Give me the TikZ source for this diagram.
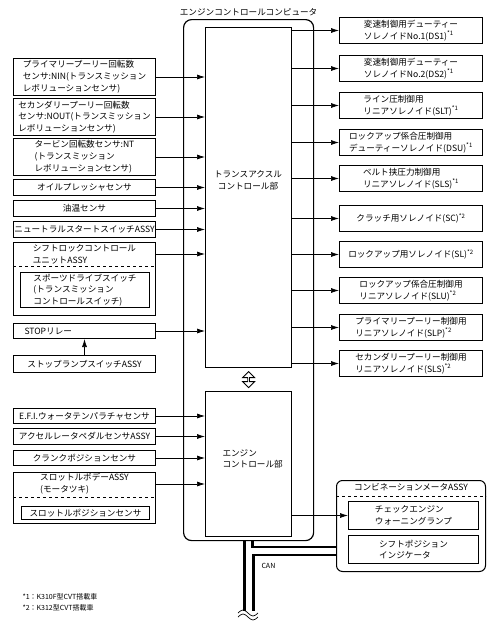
\documentclass[tikz,border=0pt]{standalone}
\usepackage{fontspec}
\setmainfont{Noto Sans CJK JP}
\usetikzlibrary{shapes,arrows.meta,positioning,calc}

\begin{document}
\begin{tikzpicture}[x=1pt, y=-1pt, font=\fontsize{8.6}{11.8}\selectfont,
  box/.style={draw, line width=1pt, anchor=north west, inner sep=0.5pt, align=left},
  inbox/.style={box, minimum width=142pt},
  outbox/.style={box, minimum width=143pt, minimum height=26pt},
  ctrlbox/.style={draw, line width=1.2pt, anchor=north west},
  sig/.style={-{Latex[length=8pt,width=5pt]}, line width=0.7pt},
  can/.style={line width=2.4pt},
  note/.style={anchor=west, font=\fontsize{7}{8}\selectfont}]
\useasboundingbox (0,0) rectangle (496,625);

\node[ctrlbox, rounded corners=8pt, minimum width=130pt, minimum height=521pt] (ecc) at (183,19) {};
\node[above=0pt of ecc] (ecctitle) {エンジンコントロールコンピュータ};
\node[ctrlbox, minimum width=86pt, minimum height=340pt] (tcu) at (205,27) {};
\node[align=center] (tculabel) at (248,180) {トランスアクスル\\コントロール部};
\node[ctrlbox, minimum width=86pt, minimum height=145pt] (ecu) at (205,391) {};
\node[anchor=west, align=left] (eculabel) at (219,459) {エンジン\\コントロール部};
\node[double arrow, draw, line width=0.8pt, rotate=90, minimum height=16pt, minimum width=12pt, double arrow head extend=2.5pt, inner sep=0pt] (link) at ($(tcu.south)!0.5!(ecu.north)$) {};

\node[inbox, minimum height=37pt] (in1) at (13,58) {プライマリープーリー回転数\\センサ:NIN(トランスミッション\\レボリューションセンサ)};
\node[inbox, minimum height=37pt] (in2) at (13,98) {セカンダリープーリー回転数\\センサ:NOUT(トランスミッション\\レボリューションセンサ)};
\node[inbox, minimum height=37pt] (in3) at (13,138) {タービン回転数センサ:NT\\(トランスミッション\\レボリューションセンサ)};
\node[inbox, minimum height=16pt] (in4) at (13,179) {オイルプレッシャセンサ};
\node[inbox, minimum height=16pt] (in5) at (13,200) {油温センサ};
\node[inbox, minimum height=16pt] (in6) at (13,221) {ニュートラルスタートスイッチASSY};
\node[inbox, minimum height=73pt] (in7) at (13,242) {};
\node[align=left] (in7t) at ([yshift=-12pt]in7.north) {シフトロックコントロール\\ユニットASSY};
\draw[dashed, line width=0.6pt] ([yshift=-24pt]in7.north west) -- ([yshift=-24pt]in7.north east);
\node[box, minimum width=129pt, minimum height=35pt] (in7s) at ([xshift=7pt,yshift=-30pt]in7.north west) {スポーツドライブスイッチ\\(トランスミッション\\コントロールスイッチ)};
\node[inbox, minimum height=15pt, text width=120pt] (in8) at (13,323) {STOPリレー};
\node[inbox, minimum height=17pt] (in9) at (13,355) {ストップランプスイッチASSY};
\node[inbox, minimum height=15pt] (in10) at (13,408) {E.F.I.ウォータテンパラチャセンサ};
\node[inbox, minimum height=16pt] (in11) at (13,428) {アクセルレータペダルセンサASSY};
\node[inbox, minimum height=15pt] (in12) at (13,450) {クランクポジションセンサ};
\node[inbox, minimum height=51pt] (in13) at (13,472) {};
\node[align=left] (in13t) at ([yshift=-12pt]in13.north) {スロットルボデーASSY\\(モータツキ)};
\draw[dashed, line width=0.6pt] ([yshift=-25pt]in13.north west) -- ([yshift=-25pt]in13.north east);
\node[box, minimum width=128pt, minimum height=13pt] (in13s) at ([xshift=8pt,yshift=-34pt]in13.north west) {スロットルポジションセンサ};

\draw[sig] (in1.east) -- (in1.east -| tcu.west);
\draw[sig] (in2.east) -- (in2.east -| tcu.west);
\draw[sig] (in3.east) -- (in3.east -| tcu.west);
\draw[sig] (in4.east) -- (in4.east -| tcu.west);
\draw[sig] (in5.east) -- (in5.east -| tcu.west);
\draw[sig] (in6.east) -- (in6.east -| tcu.west);
\draw[sig] (in7t -| in7.east) -- (in7t -| tcu.west);
\draw[sig] (in8.east) -- (in8.east -| tcu.west);
\draw[sig] (in9.north) -- (in8.south);
\draw[sig] (in10.east) -- (in10.east -| ecu.west);
\draw[sig] (in11.east) -- (in11.east -| ecu.west);
\draw[sig] (in12.east) -- (in12.east -| ecu.west);
\draw[sig] (in13t -| in13.east) -- (in13t -| ecu.west);

\node[outbox] (out1) at (339,17) {変速制御用デューティー\\ソレノイドNo.1(DS1)\textsuperscript{*1}};
\node[outbox] (out2) at (339,55) {変速制御用デューティー\\ソレノイドNo.2(DS2)\textsuperscript{*1}};
\node[outbox] (out3) at (339,92) {ライン圧制御用\\リニアソレノイド(SLT)\textsuperscript{*1}};
\node[outbox] (out4) at (339,129) {ロックアップ係合圧制御用\\デューティーソレノイド(DSU)\textsuperscript{*1}};
\node[outbox] (out5) at (339,165) {ベルト挟圧力制御用\\リニアソレノイド(SLS)\textsuperscript{*1}};
\node[outbox] (out6) at (339,205) {クラッチ用ソレノイド(SC)\textsuperscript{*2}};
\node[outbox] (out7) at (339,241) {ロックアップ用ソレノイド(SL)\textsuperscript{*2}};
\node[outbox] (out8) at (339,277) {ロックアップ係合圧制御用\\リニアソレノイド(SLU)\textsuperscript{*2}};
\node[outbox] (out9) at (339,314) {プライマリープーリー制御用\\リニアソレノイド(SLP)\textsuperscript{*2}};
\node[outbox] (out10) at (339,350) {セカンダリープーリー制御用\\リニアソレノイド(SLS)\textsuperscript{*2}};

\draw[sig] (out1.west -| tcu.east) -- (out1.west);
\draw[sig] (out2.west -| tcu.east) -- (out2.west);
\draw[sig] (out3.west -| tcu.east) -- (out3.west);
\draw[sig] (out4.west -| tcu.east) -- (out4.west);
\draw[sig] (out5.west -| tcu.east) -- (out5.west);
\draw[sig] (out6.west -| tcu.east) -- (out6.west);
\draw[sig] (out7.west -| tcu.east) -- (out7.west);
\draw[sig] (out8.west -| tcu.east) -- (out8.west);
\draw[sig] (out9.west -| tcu.east) -- (out9.west);
\draw[sig] (out10.west -| tcu.east) -- (out10.west);

\node[box, rounded corners=6pt, minimum width=149pt, minimum height=91pt] (meter) at (336,480) {};
\node[below=0pt of meter.north] (metertitle) {コンビネーションメータASSY};
\draw[dashed, line width=0.6pt] ([yshift=-16pt]meter.north west) -- ([yshift=-16pt]meter.north east);
\node[box, minimum width=130pt, minimum height=28pt] (lamp) at (348,501) {チェックエンジン\\ウォーニングランプ};
\node[box, minimum width=130pt, minimum height=28pt] (ind) at (348,535) {シフトポジション\\インジケータ};
\draw[sig] (lamp.west -| ecu.east) -- (lamp.west);

\coordinate (canhi) at (336,547);
\coordinate (canlo) at (336,555);
\coordinate (cut) at (248,611);
\draw[can] ([xshift=-4pt]ecc.south) -- ([xshift=-4pt]ecc.south |- cut);
\draw[can] ([xshift=4pt]ecc.south) |- (canhi);
\draw[can] (canlo) -| ([xshift=5pt]ecc.south |- cut);
\node[note] (canlabel) at (258,566) {CAN};
\foreach \y in {613,617}
  \draw[line width=0.7pt] (238,\y) sin (243,\y-3) cos (248,\y) sin (253,\y+3) cos (258,\y);

\node[note] (note1) at (19,597) {*1：K310F型CVT搭載車};
\node[note] (note2) at (19,608) {*2：K312型CVT搭載車};
\end{tikzpicture}
\end{document}
